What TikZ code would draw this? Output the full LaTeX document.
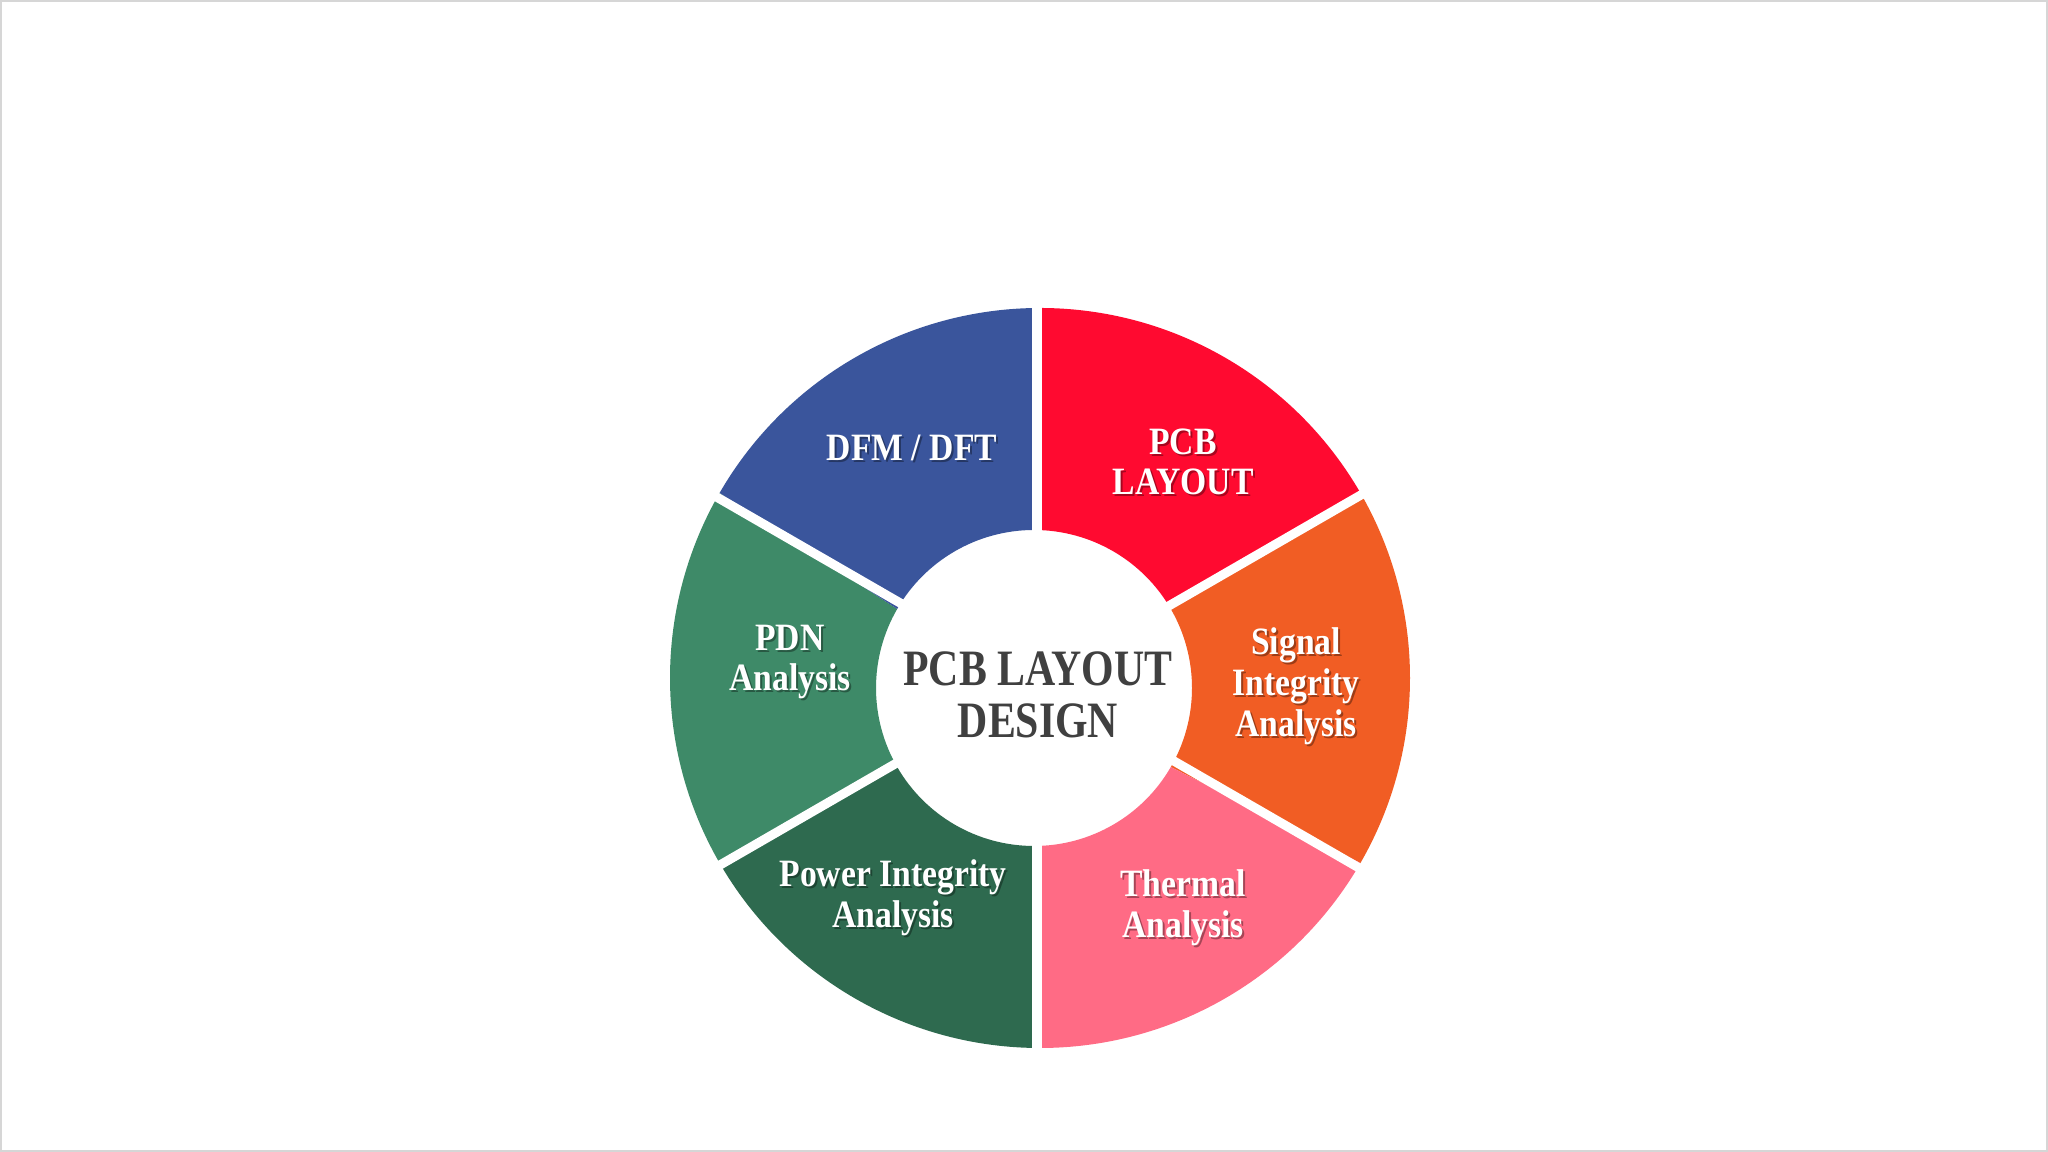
\documentclass[tikz,border=0pt]{standalone}
\usepackage{fontspec}
\setmainfont{Liberation Serif}
\newfontfamily\lblfont{Liberation Serif}[FakeStretch=0.87]
\newfontfamily\ctrfont{Liberation Serif}[FakeStretch=0.82]
\usetikzlibrary{calc}
\definecolor{cblue}{HTML}{3A559C}
\definecolor{cred}{HTML}{FF0A30}
\definecolor{corange}{HTML}{F15D24}
\definecolor{cpink}{HTML}{FF6B85}
\definecolor{cdgreen}{HTML}{2E6A4F}
\definecolor{cgreen}{HTML}{3E8A68}
\definecolor{ctext}{HTML}{404040}
\definecolor{cborder}{HTML}{D6D6D6}
\tikzset{
  lbl/.style={text=white, align=center, font=\lblfont\bfseries\fontsize{11pt}{11.6pt}\selectfont, inner sep=0pt},
  lblsh/.style={text=black, opacity=0.35, align=center, font=\lblfont\bfseries\fontsize{11pt}{11.6pt}\selectfont, inner sep=0pt},
  ctr/.style={text=ctext, align=center, font=\ctrfont\bfseries\fontsize{14.5pt}{14.6pt}\selectfont, inner sep=0pt},
  gapline/.style={white, line width=2.6pt}
}
\newcommand{\sector}[3]{%
  \fill[#1] ($(O)+(#2:370)$) arc[start angle=#2, end angle=#3, radius=370]
    -- ($(I)+(#3:158)$) arc[start angle=#3, end angle=#2, radius=158] -- cycle;}
\begin{document}
\begin{tikzpicture}[x=0.01cm, y=0.01cm]
\useasboundingbox (0,0) rectangle (2048,1152);
\fill[white] (0,0) rectangle (2048,1152);
\draw[cborder, line width=0.8pt] (1,1) rectangle (2047,1151);
\coordinate (O) at (1040,474);
\coordinate (I) at (1034,464);
\coordinate (C) at (1037,470);
\sector{cred}{30}{90}
\sector{corange}{-30}{30}
\sector{cpink}{-90}{-30}
\sector{cdgreen}{-150}{-90}
\sector{cgreen}{150}{210}
\sector{cblue}{90}{150}
\foreach \a in {90,30,-30,-90,-150,150}{
  \draw[gapline] ($(C)+(\a:140)$) -- ($(C)+(\a:390)$);
}
% shadows
\node[lblsh] (dfms) at (914,702) {DFM / DFT};
\node[lblsh] (pcbs) at (1185,688) {PCB\\LAYOUT};
\node[lblsh] (sigs) at (1298,464) {Signal\\Integrity\\Analysis};
\node[lblsh] (thes) at (1185,242) {Thermal\\Analysis};
\node[lblsh] (pows) at (895,252) {Power Integrity\\Analysis};
\node[lblsh] (pdns) at (792,488) {PDN\\Analysis};
% labels
\node[lbl] (dfm) at (912,704) {DFM / DFT};
\node[lbl] (pcb) at (1183,690) {PCB\\LAYOUT};
\node[lbl] (sig) at (1296,466) {Signal\\Integrity\\Analysis};
\node[lbl] (the) at (1183,244) {Thermal\\Analysis};
\node[lbl] (pow) at (893,254) {Power Integrity\\Analysis};
\node[lbl] (pdn) at (790,490) {PDN\\Analysis};
\node[ctr] (ctr) at (1038,457) {PCB LAYOUT\\DESIGN};
\end{tikzpicture}
\end{document}
